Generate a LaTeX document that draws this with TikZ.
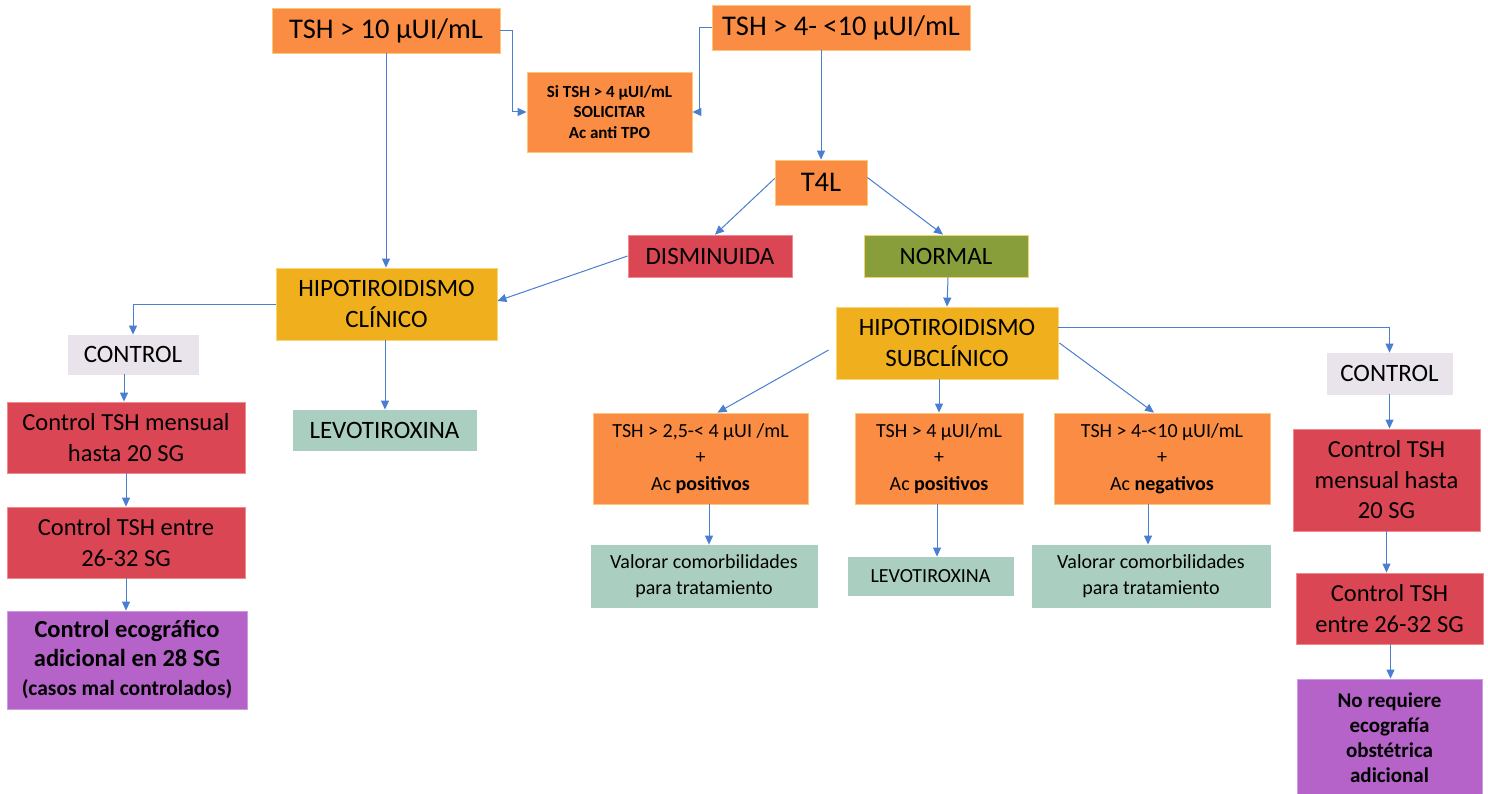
\documentclass[tikz,border=0pt]{standalone}
\usepackage{fontspec}
\setmainfont{Carlito}
\usetikzlibrary{arrows.meta,calc}
\definecolor{cor}{RGB}{250,140,68}
\definecolor{corb}{RGB}{250,200,120}
\definecolor{cred}{RGB}{218,70,84}
\definecolor{credb}{RGB}{240,140,140}
\definecolor{cyel}{RGB}{240,176,30}
\definecolor{cyelb}{RGB}{250,212,120}
\definecolor{coli}{RGB}{136,158,58}
\definecolor{colib}{RGB}{240,210,110}
\definecolor{cgray}{RGB}{233,228,235}
\definecolor{cmint}{RGB}{170,206,192}
\definecolor{cpur}{RGB}{181,98,201}
\definecolor{cpurb}{RGB}{205,155,225}
\definecolor{carr}{RGB}{74,126,208}
\begin{document}
\begin{tikzpicture}[x=1pt,y=-1pt,
  bx/.style={rectangle, inner sep=0pt, align=center, line width=0.8pt, text=black},
  orbox/.style={bx, fill=cor, draw=corb},
  redbox/.style={bx, fill=cred, draw=credb},
  yelbox/.style={bx, fill=cyel, draw=cyelb},
  olibox/.style={bx, fill=coli, draw=colib},
  graybox/.style={bx, fill=cgray, draw=cgray},
  mintbox/.style={bx, fill=cmint, draw=cmint},
  purbox/.style={bx, fill=cpur, draw=cpurb},
  sz/.style 2 args={minimum width=#1pt, minimum height=#2pt},
  fbig/.style={font=\fontsize{28.5}{33}\selectfont},
  fmed/.style={font=\fontsize{25}{30.5}\selectfont},
  fctl/.style={font=\fontsize{24.5}{30.5}\selectfont},
  fsm/.style={font=\fontsize{20}{26.5}\selectfont},
  fsi/.style={font=\fontsize{17}{20.5}\selectfont\bfseries},
  fno/.style={font=\fontsize{21}{25}\selectfont\bfseries},
  feco/.style={font=\fontsize{24.5}{29}\selectfont\bfseries},
  ln/.style={draw=carr, line width=1pt},
  arr/.style={ln, -{Triangle[length=9pt,width=8pt]}}
]
\useasboundingbox (0,0) rectangle (1488,794);
\fill[white] (0,0) rectangle (1488,794);

% top row
\node[orbox, fbig, sz={228}{45}] (tsh10) at (386,30.5) {TSH > 10 µUI/mL};
\node[orbox, fbig, sz={258}{45}] (tsh4) at (841,27.5) {TSH > 4- <10 µUI/mL};
\node[orbox, fsi, sz={165}{80}] (si) at (609.5,112) {Si TSH > 4 µUI/mL\\SOLICITAR\\Ac anti TPO};
\node[orbox, fbig, sz={92}{45}] (t4l) at (821,182.5) {T4L};
\node[redbox, fmed, sz={164}{42}] (dism) at (710,256) {DISMINUIDA};
\node[olibox, fmed, sz={164}{42}] (normal) at (946,256) {NORMAL};
\node[yelbox, fmed, sz={221}{72}] (hc) at (386.5,304) {HIPOTIROIDISMO\\CLÍNICO};
\node[yelbox, fmed, sz={222}{72}] (hs) at (947,343) {HIPOTIROIDISMO\\SUBCLÍNICO};

% left column
\node[graybox, fmed, sz={130}{39}] (ctrlL) at (133,354.5) {CONTROL};
\node[redbox, fctl, sz={238}{71}] (c1L) at (126,437.5) {Control TSH mensual\\hasta 20 SG};
\node[redbox, fctl, sz={238}{71}] (c2L) at (126,542.5) {Control TSH entre\\26-32 SG};
\node[purbox, feco, sz={240}{98}] (ecoL) at (127,660)
  {Control ecográfico\\adicional en 28 SG\\{\fontsize{21.5}{29}\selectfont (casos mal controlados)}};
\node[mintbox, fmed, sz={183}{40}] (levoL) at (384.5,430) {LEVOTIROXINA};

% middle
\node[orbox, fsm, sz={215}{91}] (a1) at (700.5,458.5) {TSH > 2,5-< 4 µUI /mL\\+\\Ac \textbf{positivos}};
\node[orbox, fsm, sz={168}{91}] (a2) at (939,458.5) {TSH > 4 µUI/mL\\+\\Ac \textbf{positivos}};
\node[orbox, fsm, sz={216}{91}] (a3) at (1162,458.5) {TSH > 4-<10 µUI/mL\\+\\Ac \textbf{negativos}};
\node[mintbox, fsm, sz={226}{62}] (v1) at (704,576) {Valorar comorbilidades\\para tratamiento};
\node[mintbox, fsm, sz={165}{38}] (lv2) at (930.5,576) {LEVOTIROXINA};
\node[mintbox, fsm, sz={238}{62}] (v3) at (1151,576) {Valorar comorbilidades\\para tratamiento};

% right column
\node[graybox, fmed, sz={125}{41}] (ctrlR) at (1389.5,373.5) {CONTROL};
\node[redbox, fctl, sz={187}{102}] (c1R) at (1386.5,480) {Control TSH\\mensual hasta\\20 SG};
\node[redbox, fctl, sz={187}{71}] (c2R) at (1389.5,608.5) {Control TSH\\entre 26-32 SG};
\node[purbox, fno, sz={185}{118}] (noR) at (1389.5,738) {No requiere\\ecografía\\obstétrica\\adicional};

% connectors
\draw[arr] (tsh10.east) -- ++(12,0) |- (si.west);
\draw[arr] (tsh4.west) -- ++(-12,0) |- (si.east);
\draw[arr] (tsh10.south) -- (tsh10.south |- hc.north);
\draw[arr] (t4l.north |- tsh4.south) -- (t4l.north);
\draw[arr] ([yshift=4]t4l.west) -- ([xshift=5]dism.north);
\draw[arr] ([yshift=5]t4l.east) -- ([xshift=-3]normal.north);
\draw[arr] (dism.west) -- ([yshift=3]hc.east);
\draw[arr] ([xshift=2]normal.south) -- ([xshift=0]hs.north);
\draw[arr] (hc.west) -| (ctrlL.north);
\draw[arr] ([xshift=-1.5]hc.south) -- ([xshift=-1.5]hc.south |- levoL.north);
\draw[arr] ([xshift=-9]ctrlL.south) -- ([xshift=-9]ctrlL.south |- c1L.north);
\draw[arr] (c1L.south) -- (c2L.north);
\draw[arr] (c2L.south) -- (c2L.south |- ecoL.north);
\draw[arr] ([shift={(-7,7)}]hs.west) -- ([xshift=17]a1.north);
\draw[arr] (a2.north |- hs.south) -- (a2.north);
\draw[arr] ([shift={(1,0)}]hs.east) -- ([xshift=-8]a3.north);
\draw[arr] ([shift={(0,21)}]hs.north east) -| (ctrlR.north);
\draw[arr] ([xshift=8.5]a1.south) -- ([xshift=8.5]a1.south |- v1.north);
\draw[arr] ([xshift=-2]a2.south) -- ([xshift=-2]a2.south |- lv2.north);
\draw[arr] ([xshift=-14]a3.south) -- ([xshift=-14]a3.south |- v3.north);
\draw[arr] (ctrlR.south) -- (ctrlR.south |- c1R.north);
\draw[arr] (c1R.south) -- (c1R.south |- c2R.north);
\draw[arr] ([xshift=1]c2R.south) -- ([xshift=1]c2R.south |- noR.north);
\end{tikzpicture}
\end{document}
